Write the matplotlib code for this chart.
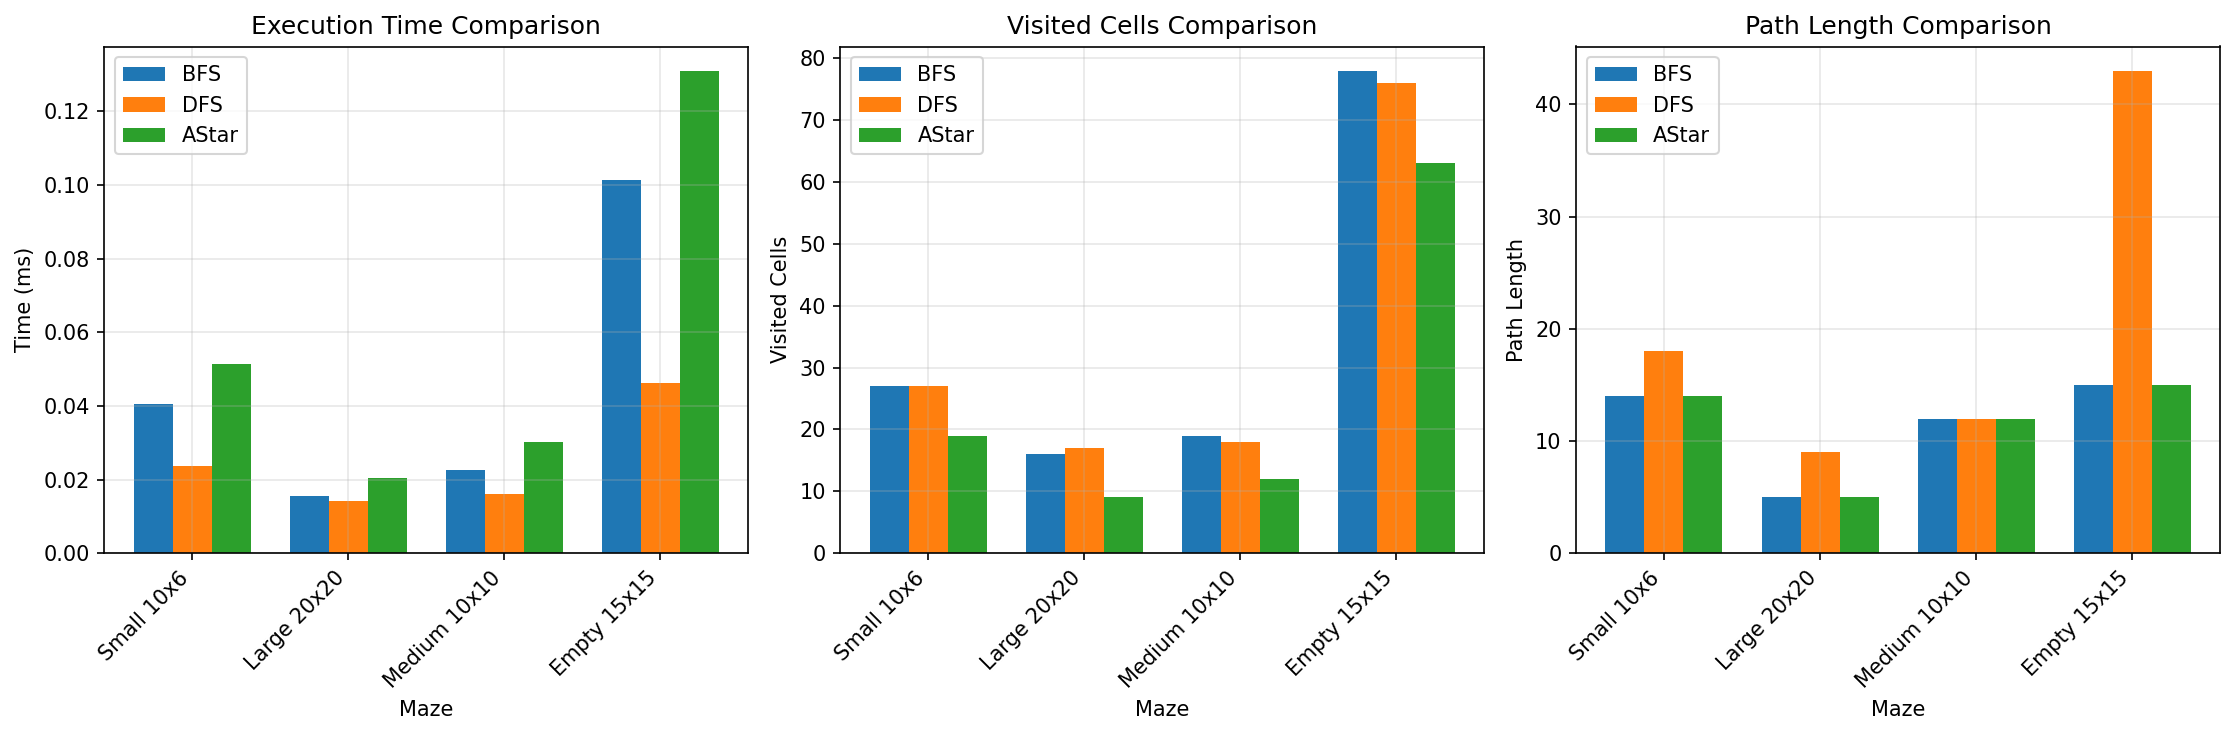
import numpy as np
import matplotlib
matplotlib.use("Agg")
import matplotlib.pyplot as plt

mazes = ["Small 10x6", "Large 20x20", "Medium 10x10", "Empty 15x15"]
algorithms = ["BFS", "DFS", "AStar"]

# execution time in ms
time_bfs = [0.0406, 0.0156, 0.0227, 0.1013]
time_dfs = [0.0238, 0.0142, 0.0161, 0.0463]
time_astar = [0.0514, 0.0203, 0.0302, 0.1311]

visited_bfs = [27, 16, 19, 78]
visited_dfs = [27, 17, 18, 76]
visited_astar = [19, 9, 12, 63]

path_bfs = [14, 5, 12, 15]
path_dfs = [18, 9, 12, 43]
path_astar = [14, 5, 12, 15]

panels = [
    ("Execution Time Comparison", "Time (ms)", [time_bfs, time_dfs, time_astar]),
    ("Visited Cells Comparison", "Visited Cells", [visited_bfs, visited_dfs, visited_astar]),
    ("Path Length Comparison", "Path Length", [path_bfs, path_dfs, path_astar]),
]

fig, axes = plt.subplots(1, 3, figsize=(15, 5), dpi=150)
x = np.arange(len(mazes))
width = 0.25

for ax, (title, ylabel, series) in zip(axes, panels):
    for i, (name, vals) in enumerate(zip(algorithms, series)):
        ax.bar(x + (i - 1) * width, vals, width, label=name)
    ax.set_title(title, fontsize=12)
    ax.set_xlabel("Maze")
    ax.set_ylabel(ylabel)
    ax.set_xticks(x)
    ax.set_xticklabels(mazes, rotation=45, ha="right")
    ax.legend(loc="upper left")
    ax.grid(True, alpha=0.3)

plt.tight_layout()
plt.savefig("out.png", dpi=150, bbox_inches="tight")
